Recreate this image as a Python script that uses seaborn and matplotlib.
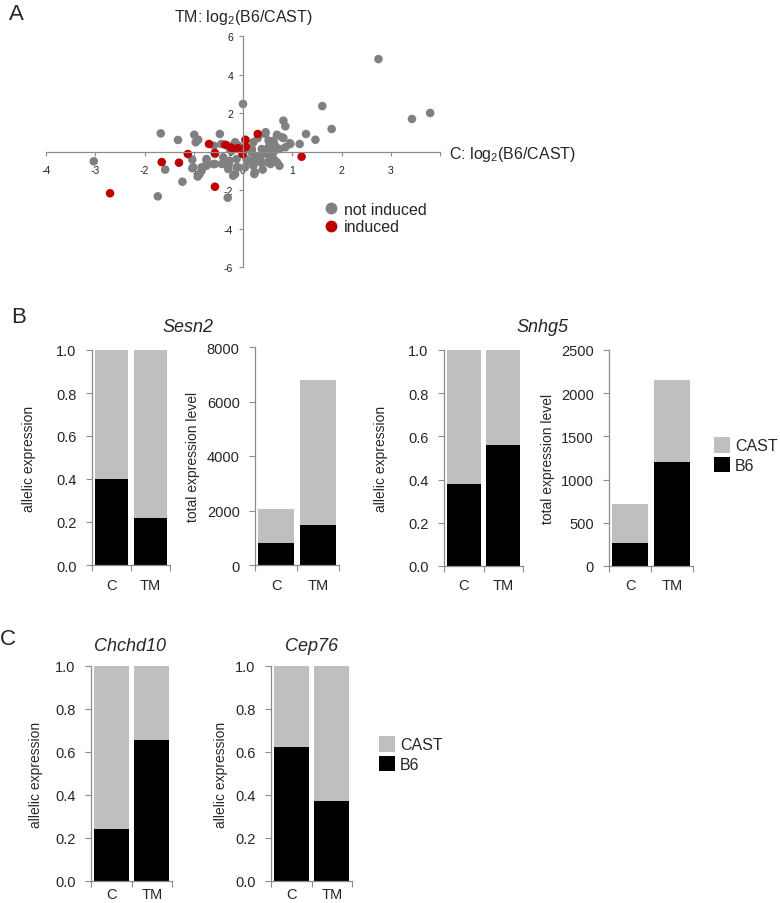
import numpy as np
import pandas as pd
import seaborn as sns
import matplotlib.pyplot as plt
from matplotlib.lines import Line2D
from matplotlib.patches import Patch

sns.set_theme(style='ticks')
plt.rcParams['font.family'] = ['Liberation Sans', 'DejaVu Sans']
plt.rcParams['mathtext.default'] = 'regular'
plt.rcParams['axes.unicode_minus'] = False

W, H = 780, 904
AXIS_GREY = '#8c8c8c'
CAST_GREY = '#bfbfbf'
B6_BLACK = '#000000'
DOT_GREY = '#808080'
DOT_RED = '#c00000'

# Panel A: log2(B6/CAST) in control (C) vs tunicamycin (TM)
not_induced_c = [2.75, 3.43, 3.80, 1.61, 1.80, 0.00, 0.82, 0.86, 1.28, 1.47, 1.15, 0.95,
                 -1.67, -1.32, -0.99, -0.91, -0.96, -0.47, -3.03, -1.58, -1.03, -1.03, -0.84,
                 -0.92, -1.23, -1.73, -0.31, -0.20, -0.10, 0.23, 0.40, 0.63, 0.74, -0.57,
                 -0.43, -0.74, -0.29, 0.46, 0.69, 0.82, 0.74, 0.62, 0.52, 0.42, 0.36, 0.22,
                 0.62, 0.18, 0.21, -0.59, -0.44, -0.27, -0.09, 0.18, -0.88, -0.74, -0.33,
                 -0.30, -0.13, 0.07, 0.21, 0.36, 0.49, 0.62, 0.52, 0.62, 0.45, -0.74, -0.84,
                 -1.01, -0.60, -0.27, -0.13, -0.40, -0.57, -0.30, -0.16, -0.23, 0.79, 0.96,
                 0.86, 0.65, 0.38, 0.49, 0.24, 0.11, 0.35, 0.59, 0.69, 0.56, 0.24, 0.04,
                 -0.16, 0.30, 0.05]
not_induced_tm = [4.80, 1.69, 2.00, 2.36, 1.17, 2.47, 1.60, 1.31, 0.91, 0.61, 0.39, 0.43,
                  0.94, 0.60, 0.87, 0.61, 0.48, 0.91, -0.51, -0.94, -0.42, -0.87, -1.00,
                  -1.30, -1.57, -2.33, -2.40, -1.26, -0.82, -1.17, -0.94, -0.42, -0.74, -0.65,
                  -0.65, -0.48, -0.65, 1.00, 0.87, 0.70, 0.13, 0.30, 0.56, 0.04, -0.56, -0.56,
                  -0.48, -0.04, 0.48, 0.30, 0.39, 0.13, 0.30, 0.13, -1.17, -0.74, -0.56,
                  -0.91, -0.82, -0.39, -0.74, -0.22, -0.56, -0.04, 0.22, 0.56, 0.91, -0.39, -0.82,
                  -0.82, -0.65, -0.48, -0.39, -0.30, -0.13, 0.30, 0.48, 0.04, 0.74, 0.39,
                  0.22, 0.30, 0.13, -0.13, -0.22, -0.48, -0.48, -0.30, -0.56, -0.65, -1.08, -0.82,
                  -1.17, 0.70, 0.10]
induced_c = [-2.70, -1.65, -1.30, -1.12, -0.69, -0.57, -0.57, -0.36, -0.20, -0.10, 0.05,
             0.06, -0.01, 0.30, 1.19, -0.24]
induced_tm = [-2.17, -0.55, -0.58, -0.13, 0.39, -0.08, -1.83, 0.35, 0.13, 0.17, 0.61,
              0.25, -0.13, 0.91, -0.27, 0.20]

# Panels B and C: stacked allele bars
conditions = ['C', 'TM']
sesn2_b6_frac = [0.40, 0.22]
sesn2_total = [2060, 6800]
sesn2_b6_total = [820, 1470]
snhg5_b6_frac = [0.38, 0.56]
snhg5_total = [715, 2155]
snhg5_b6_total = [270, 1205]
chchd10_b6_frac = [0.24, 0.655]
cep76_b6_frac = [0.625, 0.37]

fig = plt.figure(figsize=(W / 100, H / 100), dpi=100)


def add_ax(left, top, right, bottom):
    return fig.add_axes([left / W, 1 - bottom / H, (right - left) / W, (bottom - top) / H])


# ---- Panel A scatter
ax = add_ax(46, 37, 440, 268)
df_sc = pd.concat([
    pd.DataFrame({'C': not_induced_c, 'TM': not_induced_tm, 'group': 'not induced'}),
    pd.DataFrame({'C': induced_c, 'TM': induced_tm, 'group': 'induced'}),
])
sns.scatterplot(data=df_sc, x='C', y='TM', hue='group',
                palette={'not induced': DOT_GREY, 'induced': DOT_RED},
                s=38, linewidth=0, legend=False, ax=ax)
ax.set_xlim(-4, 4)
ax.set_ylim(-6, 6)
ax.spines['left'].set_position(('data', 0))
ax.spines['bottom'].set_position(('data', 0))
ax.spines[['top', 'right']].set_visible(False)
for sp in ['left', 'bottom']:
    ax.spines[sp].set_color(AXIS_GREY)
    ax.spines[sp].set_linewidth(0.9)
ax.set_xticks(range(-4, 5))
ax.set_xticklabels([str(i) for i in range(-4, 4)] + [''])
ax.set_yticks(range(-6, 7, 2))
ax.tick_params(length=3, width=0.8, color=AXIS_GREY, labelsize=7.5, pad=4, labelcolor='#222222')
ax.tick_params(axis='x', pad=7)
ax.set_xlabel('')
ax.set_ylabel('')
ax.patch.set_alpha(0)

fig.text(243 / W, 1 - 22 / H, r'TM: log$_2$(B6/CAST)', ha='center', va='baseline', fontsize=11.5)
fig.text(449 / W, 1 - 159 / H, r'C: log$_2$(B6/CAST)', ha='left', va='baseline', fontsize=11.5)

dot_handles = [Line2D([], [], marker='o', ls='', color=DOT_GREY, markersize=7.5),
               Line2D([], [], marker='o', ls='', color=DOT_RED, markersize=7.5)]
fig.legend(dot_handles, ['not induced', 'induced'], loc='upper left',
           bbox_to_anchor=(326 / W, 1 - 203 / H), frameon=False, fontsize=11.5,
           handlelength=0.6, handletextpad=0.5, labelspacing=0.15, borderpad=0, borderaxespad=0)


# ---- stacked bar helper
def stacked_bars(ax, total, b6, ymax, step, fmt, label, label_x, xpad=9, width=0.86):
    sns.barplot(x=conditions, y=total, color=CAST_GREY, width=width, saturation=1,
                linewidth=0, ax=ax)
    sns.barplot(x=conditions, y=b6, color=B6_BLACK, width=width, saturation=1,
                linewidth=0, ax=ax)
    ax.set_xlim(-0.5, 1.5)
    ax.set_ylim(0, ymax)
    ticks = np.arange(0, ymax + step / 2, step)
    ax.set_yticks(ticks)
    ax.set_yticklabels([fmt.format(t) for t in ticks])
    ax.set_xticks([0, 1])
    ax.set_xticklabels(conditions)
    ax.set_xticks([-0.5, 0.5, 1.5], minor=True)
    ax.tick_params(axis='x', which='major', length=0, pad=xpad, labelsize=10.5)
    ax.tick_params(axis='x', which='minor', length=4, width=0.8, color=AXIS_GREY)
    ax.tick_params(axis='y', length=4, width=0.8, color=AXIS_GREY, pad=7, labelsize=10.5)
    ax.spines[['top', 'right']].set_visible(False)
    for sp in ['left', 'bottom']:
        ax.spines[sp].set_color(AXIS_GREY)
        ax.spines[sp].set_linewidth(0.9)
    pos = ax.get_position()
    ax.set_ylabel(label, fontsize=10)
    ax.yaxis.set_label_coords((label_x / W - pos.x0) / pos.width, 0.5)
    ax.set_xlabel('')


ax1 = add_ax(92, 351, 170, 566)
stacked_bars(ax1, [1, 1], sesn2_b6_frac, 1.0, 0.2, '{:.1f}', 'allelic expression', 36)
ax2 = add_ax(255, 348, 339, 566)
stacked_bars(ax2, sesn2_total, sesn2_b6_total, 8000, 2000, '{:.0f}', 'total expression level', 200)
ax3 = add_ax(444, 351, 523, 567)
stacked_bars(ax3, [1, 1], snhg5_b6_frac, 1.0, 0.2, '{:.1f}', 'allelic expression', 388)
ax4 = add_ax(609, 351, 693, 567)
stacked_bars(ax4, snhg5_total, snhg5_b6_total, 2500, 500, '{:.0f}', 'total expression level', 555)
ax5 = add_ax(91, 667, 172, 882)
stacked_bars(ax5, [1, 1], chchd10_b6_frac, 1.0, 0.2, '{:.1f}', 'allelic expression', 43, xpad=4)
ax6 = add_ax(271, 667, 352, 882)
stacked_bars(ax6, [1, 1], cep76_b6_frac, 1.0, 0.2, '{:.1f}', 'allelic expression', 228, xpad=4)

# gene titles
for txt, xc, yb in [('Sesn2', 188, 332), ('Snhg5', 542, 332), ('Chchd10', 130, 651), ('Cep76', 312, 651)]:
    fig.text(xc / W, 1 - yb / H, txt, ha='center', va='baseline', fontsize=13, style='italic')

# allele legends
allele_handles = [Patch(facecolor=CAST_GREY, edgecolor='none'), Patch(facecolor=B6_BLACK, edgecolor='none')]
for lx, ly in [(714, 438), (379, 737)]:
    fig.legend(allele_handles, ['CAST', 'B6'], loc='upper left',
               bbox_to_anchor=(lx / W, 1 - ly / H), frameon=False, fontsize=11.5,
               handlelength=1.0, handleheight=1.15, handletextpad=0.3, labelspacing=0.2,
               borderpad=0, borderaxespad=0)

# panel letters
for letter, lx, ly in [('A', 9, 20), ('B', 11, 323), ('C', 0, 645)]:
    fig.text(lx / W, 1 - ly / H, letter, ha='left', va='baseline', fontsize=16)

fig.savefig('out.png', dpi=100)
